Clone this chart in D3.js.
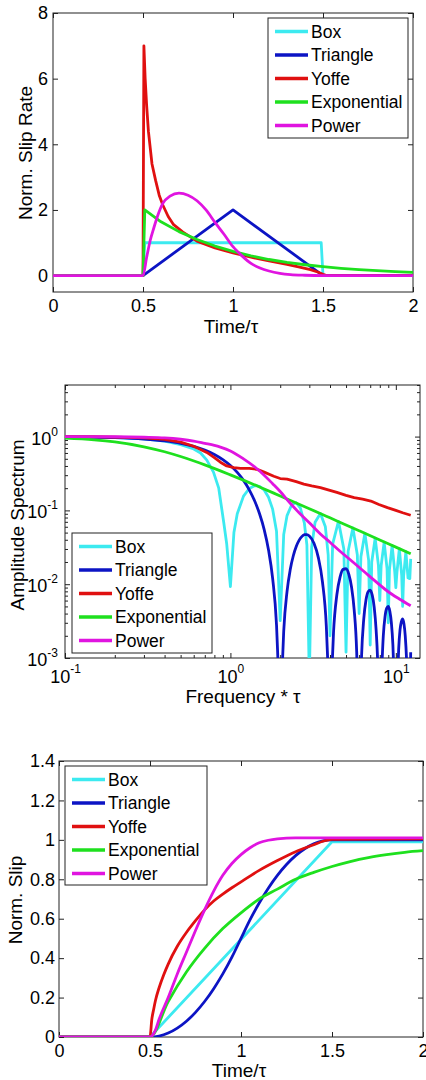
<!DOCTYPE html>
<html>
<head>
<meta charset="utf-8">
<script src="https://cdn.jsdelivr.net/npm/d3@7"></script>
<style>
body { margin: 0; background: #fff; }
text { font-family: "Liberation Sans", Arial, sans-serif; fill: #000; }
</style>
</head>
<body>
<div id="chart"></div>
<script>
// legend entries, same order in all three panels
const names = ["Box", "Triangle", "Yoffe", "Exponential", "Power"];
const colors = ["#3ceaf0", "#0c14c4", "#e01010", "#1ee01e", "#e014e0"];

// top panel: normalised slip rate vs time/tau
const rateBox = [[0,0],[0.5,0],[0.51,1],[1.49,1],[1.5,0],[2,0]];
const rateTriangle = [[0,0],[0.5,0],[1,2],[1.5,0],[2,0]];
const rateYoffe = [[0,0],[0.5,0],[0.505,7],[0.512,6],[0.52,5.2],[0.53,4.4],[0.54,3.9],[0.55,3.4],[0.57,2.9],[0.59,2.45],
  [0.61,2.15],[0.64,1.8],[0.67,1.55],[0.72,1.33],[0.8,1.05],[0.9,0.84],[1,0.69],[1.1,0.56],[1.2,0.45],[1.3,0.34],
  [1.37,0.26],[1.43,0.18],[1.47,0.11],[1.5,0.04],[1.52,0],[2,0]];
const rateExp = [[0,0],[0.5,0],[0.51,2],[0.6,1.64],[0.7,1.34],[0.8,1.1],[0.9,0.9],[1,0.74],[1.1,0.6],[1.2,0.49],
  [1.3,0.4],[1.4,0.33],[1.5,0.27],[1.6,0.22],[1.7,0.18],[1.8,0.15],[1.9,0.12],[2,0.1]];
const ratePower = [[0,0],[0.5,0],[0.52,0.55],[0.54,1.07],[0.56,1.45],[0.58,1.8],[0.61,2.2],[0.65,2.42],[0.7,2.51],
  [0.75,2.45],[0.8,2.28],[0.85,2.0],[0.9,1.62],[0.95,1.26],[1,0.88],[1.05,0.6],[1.1,0.37],[1.15,0.23],[1.2,0.14],
  [1.26,0.07],[1.32,0.03],[1.4,0.01],[1.5,0],[2,0]];

// middle panel: amplitude spectrum vs frequency*tau
const specBox = [[0.1,0.99],[0.15,0.98],[0.2,0.97],[0.3,0.93],[0.4,0.87],[0.5,0.78],[0.6,0.68],[0.66,0.6],[0.72,0.48],
  [0.79,0.33],[0.85,0.2],[0.91,0.07],[0.95,0.035],[1,0.0093],[1.05,0.05],[1.1,0.09],[1.2,0.156],[1.3,0.198],
  [1.4,0.216],[1.5,0.212],[1.6,0.189],[1.7,0.151],[1.8,0.104],[1.9,0.052],[2,0.0032],[2.1,0.047],[2.2,0.085],
  [2.35,0.12],[2.5,0.127],[2.65,0.107],[2.8,0.067],[2.9,0.034],[3,0.0005],[3.1,0.032],[3.25,0.069],[3.5,0.091],
  [3.75,0.06],[3.9,0.025],[4,0.002],[4.15,0.035],[4.5,0.071],[4.85,0.03],[5,0.0012],[5.15,0.028],[5.5,0.058],
  [5.85,0.025],[6,0.004],[6.15,0.0235],[6.5,0.049],[6.85,0.021],[7,0.0015],[7.15,0.02],[7.5,0.042],[7.85,0.018],
  [8,0.006],[8.15,0.0177],[8.5,0.037],[8.85,0.0163],[9,0.003],[9.15,0.0158],[9.5,0.0335],[9.85,0.0147],[10,0.009],
  [10.15,0.0142],[10.5,0.0303],[10.85,0.0133],[11,0.005],[11.15,0.013],[11.5,0.0277],[11.85,0.0122],[12,0.012],
  [12.15,0.0119],[12.3,0.022]];
const specTriangle = [[0.1,0.992],[0.2,0.968],[0.3,0.928],[0.4,0.875],[0.5,0.811],[0.6,0.737],[0.7,0.657],[0.8,0.573],
  [0.9,0.488],[1,0.405],[1.1,0.327],[1.2,0.255],[1.3,0.19],[1.4,0.135],[1.5,0.09],[1.6,0.055],[1.7,0.029],[1.8,0.012],
  [1.9,0.0028],[1.95,0.00066],[2,0.0002],[2.05,0.0006],[2.1,0.0023],[2.2,0.008],[2.3,0.0158],[2.4,0.0243],[2.5,0.0324],
  [2.6,0.0392],[2.7,0.0441],[2.8,0.0468],[2.9,0.047],[3,0.045],[3.2,0.0358],[3.4,0.0229],[3.6,0.0108],[3.8,0.0027],
  [3.9,0.00065],[4,0.0002],[4.1,0.0006],[4.2,0.0022],[4.4,0.0072],[4.6,0.0125],[4.8,0.0159],[5,0.0162],[5.2,0.0136],
  [5.4,0.0091],[5.6,0.0045],[5.8,0.0012],[5.9,0.0003],[6,0.0001],[6.1,0.00027],[6.2,0.001],[6.4,0.0034],[6.6,0.0061],
  [6.8,0.0079],[7,0.0083],[7.2,0.0071],[7.4,0.0049],[7.6,0.0024],[7.8,0.00064],[7.9,0.00016],[8,0.0001],[8.2,0.00058],
  [8.4,0.002],[8.6,0.0036],[8.8,0.0047],[9,0.005],[9.2,0.0043],[9.4,0.003],[9.6,0.0015],[9.8,0.0004],[10,0.0001],
  [10.2,0.00037],[10.4,0.0013],[10.6,0.0024],[10.8,0.0031],[11,0.0034],[11.2,0.0029],[11.4,0.002],[11.6,0.001],
  [11.8,0.00028],[12,0.0001],[12.15,0.0002],[12.3,0.0012]];
const specYoffe = [[0.1,1],[0.15,0.995],[0.2,0.985],[0.3,0.96],[0.4,0.92],[0.5,0.84],[0.6,0.74],[0.72,0.61],[0.8,0.52],
  [0.87,0.45],[0.95,0.4],[1.05,0.38],[1.15,0.37],[1.3,0.37],[1.45,0.36],[1.6,0.33],[1.83,0.29],[2,0.27],[2.2,0.265],
  [2.5,0.245],[2.78,0.227],[3.1,0.215],[3.5,0.204],[3.9,0.19],[4.4,0.175],[5,0.16],[5.6,0.149],[6.3,0.142],[7.06,0.134],
  [7.9,0.12],[8.9,0.109],[10,0.1],[11,0.093],[12.3,0.086]];
const specExp = [[0.1,0.954],[0.15,0.905],[0.2,0.847],[0.3,0.728],[0.4,0.623],[0.5,0.537],[0.7,0.414],[1,0.303],
  [1.5,0.208],[2,0.157],[3,0.1055],[4,0.0793],[5,0.0635],[6,0.053],[8,0.0398],[10,0.0318],[12.3,0.0259]];
const specPower = [[0.1,1],[0.2,0.995],[0.3,0.98],[0.4,0.96],[0.5,0.92],[0.6,0.87],[0.7,0.81],[0.8,0.76],[0.87,0.72],
  [1,0.64],[1.2,0.5],[1.4,0.39],[1.6,0.3],[1.8,0.23],[2,0.18],[2.3,0.125],[2.6,0.093],[3,0.068],[3.5,0.048],[4,0.037],
  [4.6,0.028],[5.5,0.02],[6.5,0.0145],[7.7,0.0105],[9,0.0079],[10.5,0.0063],[12.3,0.0051]];

// bottom panel: normalised slip vs time/tau
const slipBox = [[0,0],[0.5,0],[1.5,0.99],[2,0.99]];
const slipTriangle = [[0,0],[0.5,0],[0.55,0.005],[0.6,0.02],[0.65,0.045],[0.7,0.08],[0.75,0.125],[0.8,0.18],[0.85,0.245],
  [0.9,0.32],[0.95,0.405],[1,0.5],[1.05,0.595],[1.1,0.68],[1.15,0.755],[1.2,0.82],[1.25,0.875],[1.3,0.92],[1.35,0.955],
  [1.4,0.98],[1.45,0.995],[1.5,1],[2,1]];
const slipYoffe = [[0,0],[0.5,0],[0.51,0.09],[0.52,0.14],[0.53,0.185],[0.55,0.25],[0.575,0.315],[0.6,0.37],[0.65,0.46],
  [0.7,0.53],[0.75,0.59],[0.8,0.645],[0.85,0.69],[0.9,0.725],[0.95,0.757],[1,0.787],[1.1,0.845],[1.2,0.895],[1.3,0.94],
  [1.4,0.975],[1.45,0.993],[1.5,1.003],[2,1.005]];
const slipExp = [[0,0],[0.5,0],[0.6,0.18],[0.7,0.33],[0.8,0.45],[0.9,0.55],[1,0.63],[1.1,0.7],[1.2,0.75],[1.3,0.8],
  [1.4,0.835],[1.5,0.865],[1.6,0.89],[1.7,0.91],[1.8,0.925],[1.9,0.937],[2,0.945]];
const slipPower = [[0,0],[0.5,0],[0.53,0.035],[0.55,0.09],[0.6,0.2],[0.65,0.32],[0.7,0.43],[0.75,0.54],[0.8,0.645],
  [0.85,0.74],[0.9,0.82],[0.95,0.88],[1,0.925],[1.05,0.96],[1.1,0.985],[1.15,0.998],[1.2,1.005],[1.3,1.01],[2,1.01]];

// tick values
const timeTicks = [0, 0.5, 1, 1.5, 2];
const rateTicks = [0, 2, 4, 6, 8];
const freqTicks = [0.1, 1, 10];
const ampTicks = [0.001, 0.01, 0.1, 1];
const slipTicks = [0, 0.2, 0.4, 0.6, 0.8, 1, 1.2, 1.4];

const svg = d3.select("#chart").append("svg")
  .attr("width", 426)
  .attr("height", 1080)
  .style("display", "block");

function drawPanel(p) {
  const g = svg.append("g");
  const x = p.x, y = p.y;
  const [x0, x1] = x.range(), [y0, y1] = y.range();

  g.append("clipPath").attr("id", p.id)
    .append("rect").attr("x", x0).attr("y", y1).attr("width", x1 - x0).attr("height", y0 - y1);

  // ticks pointing inward on all four sides
  const bottom = g.append("g").attr("transform", `translate(0,${y0})`)
    .call(d3.axisBottom(x).tickValues(p.xTicks).tickSize(-5).tickPadding(7).tickFormat(p.xFmt));
  const left = g.append("g").attr("transform", `translate(${x0},0)`)
    .call(d3.axisLeft(y).tickValues(p.yTicks).tickSize(-5).tickPadding(p.yPad).tickFormat(p.yFmt));
  g.append("g").attr("transform", `translate(0,${y1})`)
    .call(d3.axisTop(x).tickValues(p.xTicks).tickSize(-5).tickFormat(""));
  g.append("g").attr("transform", `translate(${x1},0)`)
    .call(d3.axisRight(y).tickValues(p.yTicks).tickSize(-5).tickFormat(""));

  if (p.log) {
    const xMinor = x.ticks().filter(d => !p.xTicks.includes(d));
    const yMinor = y.ticks().filter(d => !p.yTicks.some(t => Math.abs(t - d) < 1e-9));
    g.append("g").attr("transform", `translate(0,${y0})`).call(d3.axisBottom(x).tickValues(xMinor).tickSize(-3).tickFormat(""));
    g.append("g").attr("transform", `translate(0,${y1})`).call(d3.axisTop(x).tickValues(xMinor).tickSize(-3).tickFormat(""));
    g.append("g").attr("transform", `translate(${x0},0)`).call(d3.axisLeft(y).tickValues(yMinor).tickSize(-3).tickFormat(""));
    g.append("g").attr("transform", `translate(${x1},0)`).call(d3.axisRight(y).tickValues(yMinor).tickSize(-3).tickFormat(""));
  }

  g.selectAll(".domain").remove();
  g.selectAll(".tick line").attr("stroke", "#222");
  g.selectAll(".tick text").style("font-size", "18px").attr("fill", "#000");

  if (p.log) {
    // powers of ten with superscript exponents
    bottom.selectAll(".tick text").text(null).attr("dy", null).attr("y", 683)
      .attr("transform", `translate(0,${-y0})`)
      .each(function(d) {
        const t = d3.select(this);
        t.append("tspan").text("10");
        t.append("tspan").attr("dy", -10).style("font-size", "12px").text(String(Math.round(Math.log10(d))));
      });
    left.selectAll(".tick text").text(null).attr("dy", "0.42em").attr("x", 58 - x0)
      .each(function(d) {
        const t = d3.select(this);
        t.append("tspan").text("10");
        t.append("tspan").attr("dy", -9).style("font-size", "12px").text(String(Math.round(Math.log10(d))));
      });
  }

  g.append("rect")
    .attr("x", x0).attr("y", y1).attr("width", x1 - x0).attr("height", y0 - y1)
    .attr("fill", "none").attr("stroke", "#222").attr("stroke-width", 1);

  const plot = g.append("g").attr("clip-path", `url(#${p.id})`);
  p.series.forEach((s, i) => {
    const line = d3.line()
      .x(d => x(d[0]))
      .y(d => y(d[1]))
      .curve(p.curves[i]);
    plot.append("path")
      .datum(s)
      .attr("d", line)
      .attr("fill", "none")
      .attr("stroke", colors[i])
      .attr("stroke-width", 2.8)
      .attr("stroke-linejoin", "round");
  });

  // axis titles
  g.append("text")
    .attr("x", p.xLabel[1]).attr("y", p.xLabel[2])
    .attr("text-anchor", "middle").style("font-size", "19px")
    .text(p.xLabel[0]);
  g.append("text")
    .attr("transform", `translate(${p.yLabel[1]},${p.yLabel[2]}) rotate(-90)`)
    .attr("dy", "0.35em")
    .attr("text-anchor", "middle").style("font-size", "19px")
    .text(p.yLabel[0]);

  // legend
  const [lx, ly, lw, lh] = p.legend;
  const leg = g.append("g");
  leg.append("rect").attr("x", lx).attr("y", ly).attr("width", lw).attr("height", lh)
    .attr("fill", "#fff").attr("stroke", "#222");
  names.forEach((n, i) => {
    const cy = ly + 13.5 + i * 23.5;
    leg.append("line")
      .attr("x1", lx + 7).attr("x2", lx + 40).attr("y1", cy).attr("y2", cy)
      .attr("stroke", colors[i]).attr("stroke-width", 3.6);
    leg.append("text")
      .attr("x", lx + 43).attr("y", cy).attr("dy", "0.36em")
      .style("font-size", "17.5px")
      .text(n);
  });
}

const lin = d3.curveLinear, mono = d3.curveMonotoneX;

drawPanel({
  id: "clipRate",
  x: d3.scaleLinear().domain([0, 2]).range([53, 413]),
  y: d3.scaleLinear().domain([-0.5, 8]).range([292, 13]),
  xTicks: timeTicks, yTicks: rateTicks,
  xFmt: d => String(d), yFmt: d => String(d), yPad: 5,
  series: [rateBox, rateTriangle, rateYoffe, rateExp, ratePower],
  curves: [lin, lin, lin, lin, mono],
  xLabel: ["Time/\u03c4", 231, 333],
  yLabel: ["Norm. Slip Rate", 25.5, 153],
  legend: [268, 18, 140, 120]
});

drawPanel({
  id: "clipSpec",
  log: true,
  x: d3.scaleLog().domain([0.1, 14]).range([65, 420]),
  y: d3.scaleLog().domain([0.001, 5]).range([658, 385]),
  xTicks: freqTicks, yTicks: ampTicks,
  xFmt: "", yFmt: "", yPad: 5,
  series: [specBox, specTriangle, specYoffe, specExp, specPower],
  curves: [lin, mono, lin, mono, mono],
  xLabel: ["Frequency * \u03c4", 243, 703],
  yLabel: ["Amplitude Spectrum", 17.5, 525],
  legend: [72, 533, 140, 120]
});

drawPanel({
  id: "clipSlip",
  x: d3.scaleLinear().domain([0, 2]).range([59, 423]),
  y: d3.scaleLinear().domain([0, 1.4]).range([1037, 761]),
  xTicks: timeTicks, yTicks: slipTicks,
  xFmt: d => String(d), yFmt: d => String(d), yPad: 4,
  series: [slipBox, slipTriangle, slipYoffe, slipExp, slipPower],
  curves: [lin, mono, mono, mono, mono],
  xLabel: ["Time/\u03c4", 239, 1077],
  yLabel: ["Norm. Slip", 15.8, 900],
  legend: [65, 766, 142, 119]
});
</script>
</body>
</html>
